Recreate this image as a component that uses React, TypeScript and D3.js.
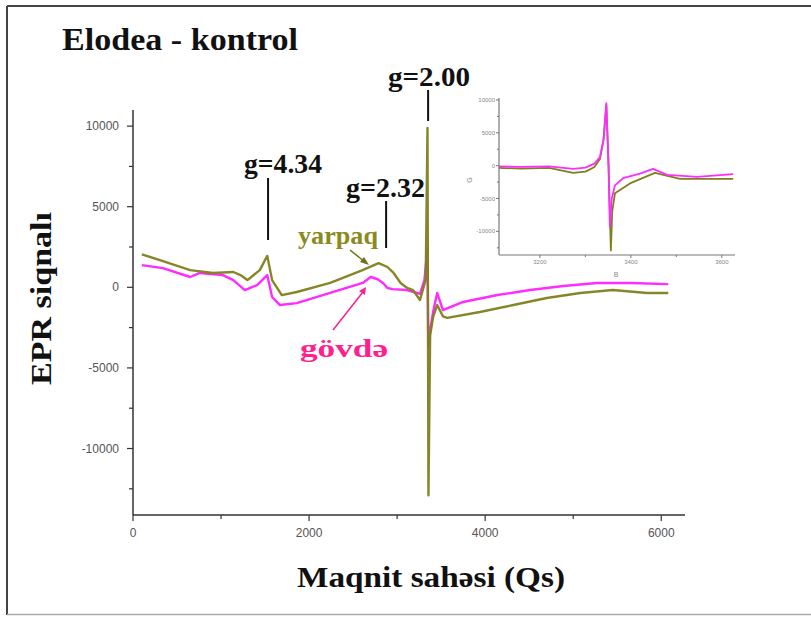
import React from "react";
import * as d3 from "d3";

// ---------- data ----------
const xTicksMain = [0, 2000, 4000, 6000];
const xMinorMain = [1000, 3000, 5000];
const yTicksMain = [10000, 5000, 0, -5000, -10000];
const yMinorMain = [7500, 2500, -2500, -7500, -12500];

const yarpaqField = [100, 340, 650, 910, 1140, 1220, 1300, 1440, 1525, 1580, 1690, 1860, 2240, 2600, 2790, 2890, 2960, 3040, 3115, 3180, 3260, 3300, 3325, 3345, 3356, 3375, 3410, 3455, 3520, 3570, 3940, 4320, 4700, 5080, 5450, 5840, 6080];
const yarpaqValue = [2050, 1630, 1070, 890, 950, 760, 450, 1070, 1950, 450, -480, -290, 270, 1050, 1500, 1260, 890, 270, -40, -170, -790, 0, 500, 9880, -12900, -3000, -1820, -1100, -1800, -1900, -1530, -1100, -660, -350, -170, -350, -350];

const govdeField = [100, 340, 650, 760, 1020, 1140, 1270, 1410, 1525, 1580, 1670, 1860, 2240, 2610, 2700, 2780, 2840, 2890, 2950, 3110, 3260, 3310, 3344, 3354, 3375, 3410, 3455, 3520, 3750, 4140, 4510, 4890, 5270, 5650, 6080];
const govdeValue = [1380, 1190, 640, 890, 760, 450, -170, 140, 760, -600, -1100, -980, -350, 270, 640, 500, 270, -40, -110, -170, -400, 450, 2400, -3700, -2650, -1500, -350, -1410, -910, -480, -170, 80, 270, 270, 200];

const insetXTicks = [3200, 3400, 3600];
const insetXMinor = [3300, 3500];
const insetYTicks = [10000, 5000, 0, -5000, -10000];
const insetYMinor = [7500, 2500, -2500, -7500, -12500];

const insetYarpaqField = [3110, 3160, 3220, 3273, 3300, 3320, 3332, 3340, 3346, 3351, 3356, 3359, 3365, 3398, 3453, 3508, 3625];
const insetYarpaqValue = [-350, -450, -350, -1100, -900, -200, 1000, 4000, 9300, 0, -12900, -7000, -4200, -2700, -1100, -2000, -2000];
const insetGovdeField = [3110, 3160, 3220, 3273, 3300, 3320, 3332, 3340, 3346, 3350, 3354, 3358, 3365, 3383, 3420, 3449, 3480, 3546, 3625];
const insetGovdeValue = [-100, -200, -100, -500, -300, 300, 1300, 4000, 9500, 2000, -9300, -5000, -3000, -1900, -1200, -500, -1400, -1700, -1300];

const peakLabels = ["g=4.34", "g=2.32", "g=2.00"];
const peakFields = [1534, 2875, 3352];

// ---------- styling ----------
const OLIVE = "#7f7f1c";
const PINK = "#ff2bff";
const serif = "'Liberation Serif', 'Times New Roman', serif";
const sans = "'Liberation Sans', Arial, sans-serif";

export default function App() {
  const x = d3.scaleLinear().domain([0, 6270]).range([133, 685]);
  const y = d3.scaleLinear().domain([-14125, 11000]).range([515, 110]);
  const xi = d3.scaleLinear().domain([3110, 3629]).range([499, 735]);
  const yi = d3.scaleLinear().domain([-13600, 10300]).range([255, 98]);

  const mk = (fs: number[], vs: number[]) => fs.map((f, i) => [f, vs[i]] as [number, number]);
  const lineMain = d3.line<[number, number]>().x(d => x(d[0])).y(d => y(d[1]));
  const lineInset = d3.line<[number, number]>().x(d => xi(d[0])).y(d => yi(d[1]));

  const yarpaq = mk(yarpaqField, yarpaqValue);
  const govde = mk(govdeField, govdeValue);
  const iy = mk(insetYarpaqField, insetYarpaqValue);
  const ig = mk(insetGovdeField, insetGovdeValue);

  const peakText = [
    { tx: 244, ty: 173, w: 78, y1: 178, y2: 240 },
    { tx: 346, ty: 197, w: 79, y1: 201, y2: 248 },
    { tx: 388, ty: 86, w: 82, y1: 90, y2: 121 },
  ];

  return (
    <svg width={811} height={617} style={{ position: "absolute", left: 0, top: 0, background: "#fff" }}>
      {/* frame */}
      <line x1={7} y1={6} x2={811} y2={6} stroke="#444" strokeWidth={2} />
      <line x1={7} y1={6} x2={7} y2={615} stroke="#444" strokeWidth={2} />
      <line x1={7} y1={614.5} x2={811} y2={614.5} stroke="#aaa" strokeWidth={1.5} />

      {/* title */}
      <text x={62} y={50} fontFamily={serif} fontWeight="bold" fontSize={31} textLength={236} lengthAdjust="spacingAndGlyphs" fill="#111">Elodea - kontrol</text>

      {/* main axes */}
      <line x1={133} y1={110} x2={133} y2={515} stroke="#333" strokeWidth={1.5} />
      <line x1={133} y1={515} x2={685} y2={515} stroke="#333" strokeWidth={1.5} />
      {yTicksMain.map(v => (
        <g key={"yt" + v}>
          <line x1={127} x2={133} y1={y(v)} y2={y(v)} stroke="#333" strokeWidth={1.2} />
          <text x={119} y={y(v) + 4} textAnchor="end" fontFamily={sans} fontSize={12} fill="#555">{v}</text>
        </g>
      ))}
      {yMinorMain.map(v => (
        <line key={"ym" + v} x1={129} x2={133} y1={y(v)} y2={y(v)} stroke="#333" strokeWidth={1.2} />
      ))}
      {xTicksMain.map(v => (
        <g key={"xt" + v}>
          <line x1={x(v)} x2={x(v)} y1={515} y2={521} stroke="#333" strokeWidth={1.2} />
          <text x={x(v)} y={537} textAnchor="middle" fontFamily={sans} fontSize={12} fill="#555">{v}</text>
        </g>
      ))}
      {xMinorMain.map(v => (
        <line key={"xm" + v} x1={x(v)} x2={x(v)} y1={515} y2={519} stroke="#333" strokeWidth={1.2} />
      ))}

      {/* axis titles */}
      <text transform="translate(51,385) rotate(-90)" fontFamily={serif} fontWeight="bold" fontSize={29} textLength={173} lengthAdjust="spacingAndGlyphs" fill="#111">EPR siqnalı</text>
      <text x={297} y={587} fontFamily={serif} fontWeight="bold" fontSize={29} textLength={268} lengthAdjust="spacingAndGlyphs" fill="#111">Maqnit sahəsi (Qs)</text>

      {/* main curves */}
      <path d={lineMain(govde) ?? ""} fill="none" stroke={PINK} strokeWidth={2.4} strokeLinejoin="round" />
      <path d={lineMain(yarpaq) ?? ""} fill="none" stroke={OLIVE} strokeWidth={2.4} strokeLinejoin="round" opacity={0.95} />

      {/* peak annotations */}
      {peakLabels.map((lab, i) => (
        <g key={lab}>
          <text x={peakText[i].tx} y={peakText[i].ty} fontFamily={serif} fontWeight="bold" fontSize={27} textLength={peakText[i].w} lengthAdjust="spacingAndGlyphs" fill="#111">{lab}</text>
          <line x1={x(peakFields[i])} x2={x(peakFields[i])} y1={peakText[i].y1} y2={peakText[i].y2} stroke="#111" strokeWidth={2} />
        </g>
      ))}

      {/* series labels with arrows */}
      <text x={298} y={244} fontFamily={serif} fontWeight="bold" fontSize={25} textLength={80} lengthAdjust="spacingAndGlyphs" fill="#8a8a1e">yarpaq</text>
      <line x1={350} y1={250} x2={365} y2={262} stroke="#6f6f1a" strokeWidth={1.5} />
      <path d="M 369 265 L 360 262 L 364 257 Z" fill="#6f6f1a" />
      <text x={300} y={357} fontFamily={serif} fontWeight="bold" fontSize={26} textLength={88} lengthAdjust="spacingAndGlyphs" fill="#ff1f8f">gövdə</text>
      <line x1={333} y1={330} x2={363} y2={292} stroke="#ff1f8f" strokeWidth={1.5} />
      <path d="M 366 287 L 359 291 L 365 295 Z" fill="#ff1f8f" />

      {/* inset */}
      <g>
        <line x1={499} y1={98} x2={499} y2={255} stroke="#777" strokeWidth={1.2} />
        <line x1={499} y1={255} x2={735} y2={255} stroke="#777" strokeWidth={1.2} />
        {insetYTicks.map(v => (
          <g key={"iyt" + v}>
            <line x1={496} x2={499} y1={yi(v)} y2={yi(v)} stroke="#777" />
            <text x={495} y={yi(v) + 2} textAnchor="end" fontFamily={sans} fontSize={6} fill="#888">{v}</text>
          </g>
        ))}
        {insetYMinor.map(v => (
          <line key={"iym" + v} x1={497} x2={499} y1={yi(v)} y2={yi(v)} stroke="#777" />
        ))}
        {insetXTicks.map(v => (
          <g key={"ixt" + v}>
            <line x1={xi(v)} x2={xi(v)} y1={255} y2={258} stroke="#777" />
            <text x={xi(v)} y={264} textAnchor="middle" fontFamily={sans} fontSize={6} fill="#888">{v}</text>
          </g>
        ))}
        {insetXMinor.map(v => (
          <line key={"ixm" + v} x1={xi(v)} x2={xi(v)} y1={255} y2={257} stroke="#777" />
        ))}
        <text x={616} y={277} textAnchor="middle" fontFamily={sans} fontSize={7} fill="#888">B</text>
        <text transform="translate(472,180) rotate(-90)" textAnchor="middle" fontFamily={sans} fontSize={7} fill="#888">G</text>
        <path d={lineInset(iy) ?? ""} fill="none" stroke={OLIVE} strokeWidth={1.8} strokeLinejoin="round" />
        <path d={lineInset(ig) ?? ""} fill="none" stroke={PINK} strokeWidth={1.8} strokeLinejoin="round" />
      </g>
    </svg>
  );
}
